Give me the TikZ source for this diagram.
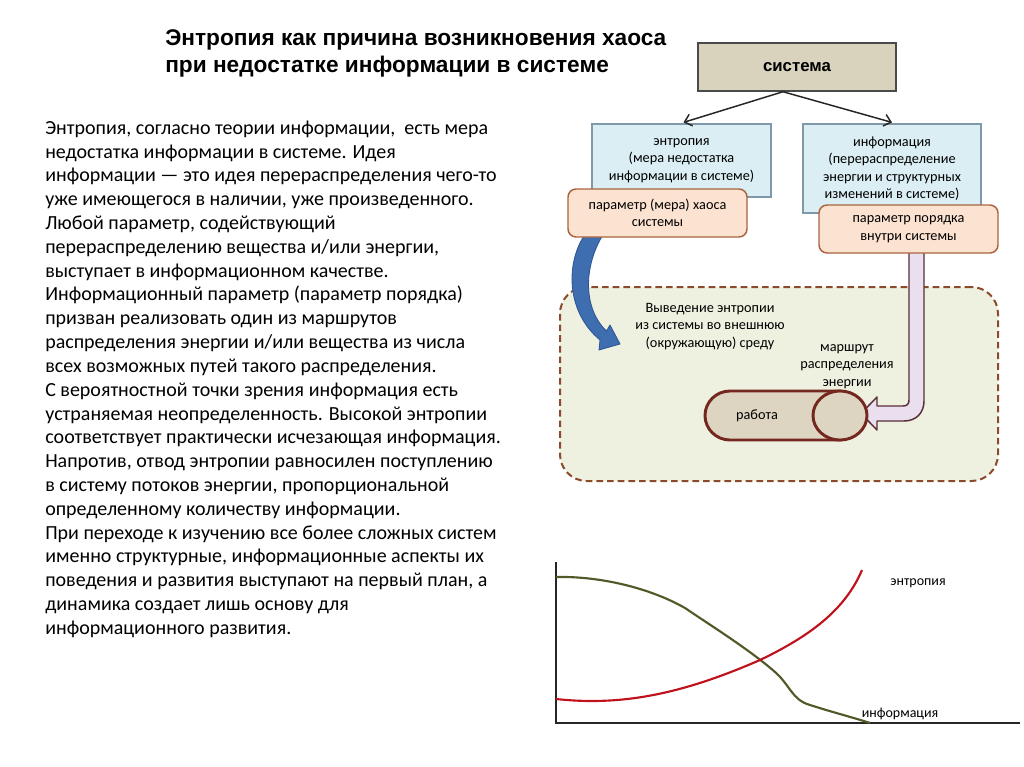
\documentclass[tikz,border=0pt]{standalone}
\usepackage{fontspec}
\setmainfont{Carlito}
\newfontfamily\arialf{Liberation Sans}
\definecolor{sysfill}{HTML}{D9D2BD}
\definecolor{sysdraw}{HTML}{4A4A4A}
\definecolor{bluefill}{HTML}{DBEEF4}
\definecolor{bluedraw}{HTML}{7F98AA}
\definecolor{peachfill}{HTML}{FCE2D0}
\definecolor{peachdraw}{HTML}{A9643F}
\definecolor{envfill}{HTML}{EEF0E0}
\definecolor{envdraw}{HTML}{8B4B2B}
\definecolor{cylfill}{HTML}{DDD5C1}
\definecolor{cyldraw}{HTML}{74271F}
\definecolor{lavfill}{HTML}{E9DFEE}
\definecolor{lavdraw}{HTML}{5A2E38}
\definecolor{arrblue}{HTML}{3F6EB0}
\definecolor{arrbluedark}{HTML}{2C5490}
\definecolor{curvegreen}{HTML}{4F5A28}
\definecolor{curvered}{HTML}{C0121C}
\tikzset{
  boxtext/.style={font=\fontsize{10.7}{13.1}\selectfont, align=center},
  sysbox/.style={draw=sysdraw, line width=1.1pt, fill=sysfill, minimum width=148.5pt, minimum height=36pt, inner sep=0pt},
  bluebox/.style={boxtext, draw=bluedraw, line width=0.9pt, fill=bluefill, inner sep=0pt},
  peachbox/.style={boxtext, draw=peachdraw, line width=1.1pt, fill=peachfill, rounded corners=6pt, minimum width=134.25pt, minimum height=36pt, inner sep=0pt},
  envbox/.style={draw=envdraw, fill=envfill, line width=1.5pt, dash pattern=on 5pt off 3pt, rounded corners=20pt, minimum width=328.5pt, minimum height=145.5pt, inner sep=0pt},
  linkarrow/.style={draw=black!85, line width=1.1pt, -{Straight Barb[length=5pt,width=9pt]}},
  charttext/.style={font=\fontsize{10.5}{12}\selectfont, inner sep=0pt},
  curve/.style={line width=1.6pt}
}
\usetikzlibrary{arrows.meta}
\begin{document}
\begin{tikzpicture}[x=0.75pt, y=-0.75pt]
\useasboundingbox (0,0) rectangle (1024,767);
\fill[white] (0,0) rectangle (1024,767);

% title
\node[anchor=north west, inner sep=0pt, align=left, font=\arialf\bfseries\fontsize{17}{20.3}\selectfont] (title) at (165,29)
 {Энтропия как причина возникновения хаоса\\при недостатке информации в системе};

% body text
\node[anchor=north west, inner sep=0pt, align=left, font=\fontsize{15}{17.86}\selectfont] (body) at (45,120.5)
{Энтропия, согласно теории информации,\ \ есть мера\\
недостатка информации в системе. Идея\\
информации — это идея перераспределения чего-то\\
уже имеющегося в наличии, уже произведенного.\\
Любой параметр, содействующий\\
перераспределению вещества и/или энергии,\\
выступает в информационном качестве.\\
Информационный параметр (параметр порядка)\\
призван реализовать один из маршрутов\\
распределения энергии и/или вещества из числа\\
всех возможных путей такого распределения.\\
С вероятностной точки зрения информация есть\\
устраняемая неопределенность. Высокой энтропии\\
соответствует практически исчезающая информация.\\
Напротив, отвод энтропии равносилен поступлению\\
в систему потоков энергии, пропорциональной\\
определенному количеству информации.\\
При переходе к изучению все более сложных систем\\
именно структурные, информационные аспекты их\\
поведения и развития выступают на первый план, а\\
динамика создает лишь основу для\\
информационного развития.};

% environment region
\node[envbox] (env) at (779,384) {};

% system box and branches
\node[sysbox, font=\arialf\bfseries\fontsize{12.6}{14}\selectfont] (sys) at (797,67) {система};
\node[bluebox, minimum width=134.25pt, minimum height=54.75pt] (ent) at (681.5,160.5)
 {энтропия\\(мера недостатка\\информации в системе)};
\node[bluebox, minimum width=133.5pt, minimum height=66.75pt] (inf) at (892,168.5)
 {информация\\(перераспределение\\энергии и структурных\\изменений в системе)};
\coordinate (apex) at ([xshift=-10.5pt]sys.south);
\draw[linkarrow] (apex) -- ([xshift=1.5pt,yshift=0.75pt]ent.north);
\draw[linkarrow] (apex) -- ([yshift=0.75pt]inf.north);

% purple arrow (route of energy)
\draw[fill=lavfill, draw=lavdraw, line width=1.1pt, line join=round]
  (909,245) -- (909,400) .. controls (909,404) and (907,406) .. (903,406)
  -- (877,406) -- (877,397) -- (861,413.5) -- (877,430) -- (877,421)
  -- (904,421) .. controls (916,421) and (924,413) .. (924,401) -- (924,245) -- cycle;

% blue curved arrow
\draw[fill=arrblue, draw=arrbluedark, line width=0.6pt, line join=round]
  (586,233) .. controls (565,262) and (566,312) .. (600,340)
  -- (599,350) -- (620,344) -- (610,325) -- (606.5,331)
  .. controls (584,310) and (582,268) .. (604,233) -- cycle;

% peach boxes
\node[peachbox] (chaos) at (657.5,213) {параметр (мера) хаоса\\системы};
\node[peachbox] (order) at (908.5,229) {параметр порядка\\внутри системы};

% cylinder "работа"
\draw[fill=cylfill, draw=cyldraw, line width=2.2pt]
  (840,391) -- (730,391) .. controls (716.2,391) and (705,402) .. (705,415.5)
  .. controls (705,429) and (716.2,440) .. (730,440) -- (840,440) -- cycle;
\draw[fill=cylfill, draw=cyldraw, line width=2.2pt] (840,415.5) ellipse [x radius=20.25pt, y radius=18.4pt];
\node[boxtext] (work) at (757,416) {работа};

\node[boxtext] (out) at (710,326.5) {Выведение энтропии\\из системы во внешнюю\\(окружающую) среду};
\node[boxtext] (route) at (847,366.5) {маршрут\\распределения\\энергии};

% chart
\coordinate (ytop) at (556,562);
\coordinate (origin) at (556,723);
\coordinate (xend) at (1020,723);
\draw[black!85, line width=0.9pt] (ytop) -- (origin) -- (xend);
\draw[curve, curvegreen] (556,577) .. controls (600,576) and (650,588) .. (685,608)
  .. controls (710,625) and (750,650) .. (775,672)
  .. controls (790,685) and (792,700) .. (810,705)
  .. controls (835,713) and (855,718) .. (870,723);
\draw[curve, curvered] (556,699) .. controls (620,706) and (680,695) .. (760,660)
  .. controls (810,636) and (845,610) .. (862,570);
\node[charttext] (lent) at (918,583) {энтропия};
\node[charttext] (linf) at (900,714) {информация};
\end{tikzpicture}
\end{document}
